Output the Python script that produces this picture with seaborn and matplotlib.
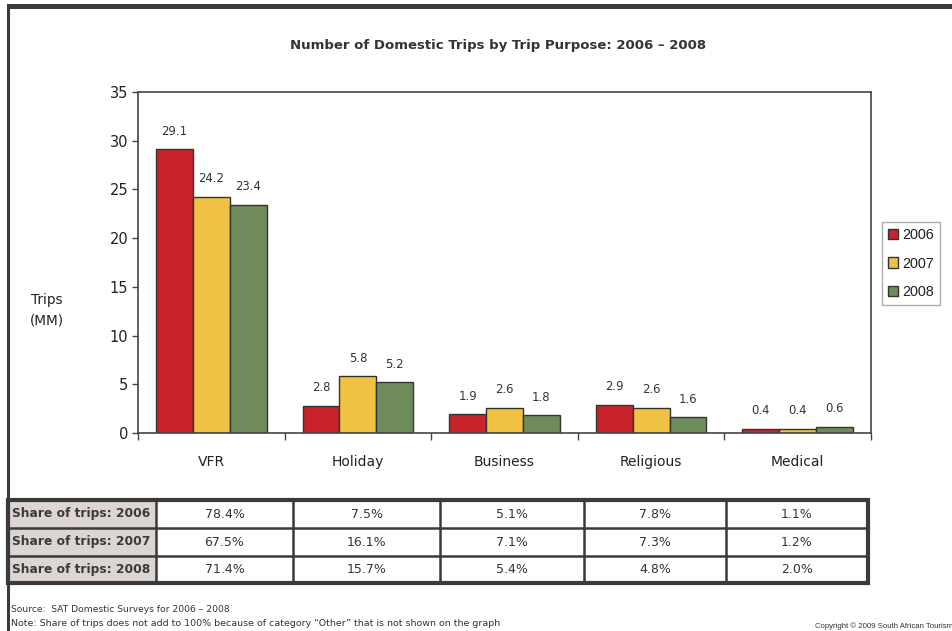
import numpy as np
import pandas as pd
import matplotlib
matplotlib.use("Agg")
import matplotlib.pyplot as plt
from matplotlib.patches import Rectangle
import seaborn as sns

# ---- data -------------------------------------------------------------
purposes = ["VFR", "Holiday", "Business", "Religious", "Medical"]
years = ["2006", "2007", "2008"]
trips_2006 = [29.1, 2.8, 1.9, 2.9, 0.4]
trips_2007 = [24.2, 5.8, 2.6, 2.6, 0.4]
trips_2008 = [23.4, 5.2, 1.8, 1.6, 0.6]
share_2006 = ["78.4%", "7.5%", "5.1%", "7.8%", "1.1%"]
share_2007 = ["67.5%", "16.1%", "7.1%", "7.3%", "1.2%"]
share_2008 = ["71.4%", "15.7%", "5.4%", "4.8%", "2.0%"]
row_labels = ["Share of trips: 2006", "Share of trips: 2007", "Share of trips: 2008"]
y_ticks = [0, 5, 10, 15, 20, 25, 30, 35]

df = pd.DataFrame({
    "purpose": purposes * 3,
    "year": sum([[y] * len(purposes) for y in years], []),
    "trips": trips_2006 + trips_2007 + trips_2008,
})

palette = {"2006": "#c8232b", "2007": "#f0c243", "2008": "#6e8b59"}
dark = "#3a3a3a"

sns.set_theme(style="white")
plt.rcParams["font.family"] = ["DejaVu Sans"]

W, H = 952, 631
fig = plt.figure(figsize=(W / 100, H / 100), dpi=100)
fig.patch.set_facecolor("white")


def fx(px):
    return px / W


def fy(py):
    return 1 - py / H


# ---- bar chart ---------------------------------------------------------
ax_left, ax_right, ax_top, ax_bot = 138, 871, 92, 433
ax = fig.add_axes([fx(ax_left), fy(ax_bot), fx(ax_right - ax_left), (ax_bot - ax_top) / H])

sns.barplot(data=df, x="purpose", y="trips", hue="year", order=purposes,
            hue_order=years, palette=palette, width=0.755, gap=0,
            edgecolor="#333333", linewidth=1.0, saturation=1, errorbar=None, ax=ax)

for cont in ax.containers:
    ax.bar_label(cont, fmt="%.1f", padding=8.5, fontsize=8.4, color="#333333")

ax.set_ylim(0, 35)
ax.set_xlim(-0.5, len(purposes) - 0.5)
ax.set_yticks(y_ticks)
ax.set_xlabel("")
ax.set_ylabel("")
for sp in ax.spines.values():
    sp.set_visible(True)
    sp.set_color("#444444")
    sp.set_linewidth(1.2)

ax.tick_params(axis="y", which="major", left=True, length=4, width=1, color="#444444",
               pad=3, labelsize=10.5, labelcolor="#222222")
ax.tick_params(axis="x", which="major", bottom=False, length=0, pad=16,
               labelsize=10, labelcolor="#222222")
ax.set_xticks(np.arange(-0.5, len(purposes), 1.0), minor=True)
ax.tick_params(axis="x", which="minor", bottom=True, length=5, width=1,
               color="#444444", direction="out")

sns.move_legend(ax, loc="upper left", bbox_to_anchor=(fx(882), fy(222)),
                bbox_transform=fig.transFigure, title=None, frameon=True,
                handlelength=0.7, handleheight=0.7,
                handletextpad=0.25, labelspacing=1.0, borderpad=0.42,
                borderaxespad=0, fancybox=False, prop={"family": "Liberation Sans", "size": 10.4})
leg = ax.get_legend()
leg.get_frame().set_edgecolor("#9a9a9a")
leg.get_frame().set_linewidth(1.0)
for t in leg.get_texts():
    t.set_color("#222222")

# ---- page furniture and table (pixel coordinates) ----------------------
ov = fig.add_axes([0, 0, 1, 1], zorder=-1)
ov.set_xlim(0, W)
ov.set_ylim(H, 0)
ov.axis("off")

ov.add_patch(Rectangle((7, 4), W - 7, 5, facecolor=dark, edgecolor="none"))
ov.plot([8, 8], [4, H], color=dark, lw=2.2, solid_capstyle="butt")

fig.text(fx(498), fy(45), "Number of Domestic Trips by Trip Purpose: 2006 \u2013 2008",
         ha="center", va="center", fontsize=9.5, fontweight="bold", color="#333333")
fig.text(fx(47), fy(310), "Trips\n(MM)", ha="center", va="center", fontsize=9.8,
         color="#222222", linespacing=1.55)

# table
col_edges = [8, 156, 293, 440, 584, 726, 868]
row_edges = [500, 528, 556, 583]
tab = fig.add_axes([0, 0, 1, 1], zorder=2)
tab.set_xlim(0, W)
tab.set_ylim(H, 0)
tab.axis("off")
tab.patch.set_alpha(0)
for r in range(3):
    tab.add_patch(Rectangle((col_edges[0], row_edges[r]), col_edges[1] - col_edges[0],
                            row_edges[r + 1] - row_edges[r], facecolor="#dcd5d1",
                            edgecolor="none"))
for yv in row_edges[1:-1]:
    tab.plot([col_edges[0], col_edges[-1]], [yv, yv], color=dark, lw=1.8)
for xv in col_edges[1:-1]:
    tab.plot([xv, xv], [row_edges[0], row_edges[-1]], color=dark, lw=1.8)
tab.add_patch(Rectangle((col_edges[0], row_edges[0]), col_edges[-1] - col_edges[0],
                        row_edges[-1] - row_edges[0], facecolor="none",
                        edgecolor=dark, lw=3))
shares = [share_2006, share_2007, share_2008]
for r in range(3):
    yc = (row_edges[r] + row_edges[r + 1]) / 2
    tab.text(col_edges[0] + 4, yc, row_labels[r], ha="left", va="center",
             fontsize=8.8, fontweight="bold", color="#3a3a3a")
    for c in range(5):
        xc = (col_edges[c + 1] + col_edges[c + 2]) / 2
        tab.text(xc, yc, shares[r][c], ha="center", va="center", fontsize=9,
                 color="#333333")

# footer
fig.text(fx(11), fy(610), "Source:  SAT Domestic Surveys for 2006 \u2013 2008",
         ha="left", va="center", fontsize=6.6, color="#333333")
fig.text(fx(11), fy(623), "Note: Share of trips does not add to 100% because of category "
         "\u201cOther\u201d that is not shown on the graph",
         ha="left", va="center", fontsize=6.8, color="#333333")
fig.text(fx(815), fy(626), "Copyright \u00a9 2009 South African Tourism",
         ha="left", va="center", fontsize=5.6, color="#333333", family="Liberation Sans")

fig.savefig("out.png", dpi=100, facecolor="white")
